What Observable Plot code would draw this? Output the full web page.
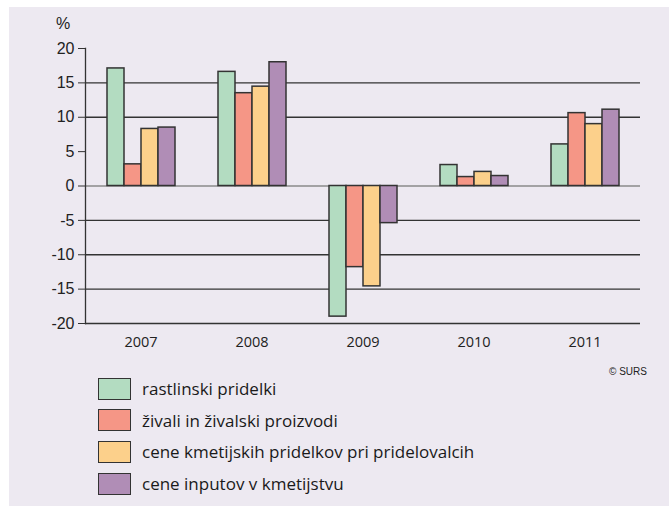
<!DOCTYPE html>
<html>
<head>
<meta charset="utf-8">
<script src="https://cdn.jsdelivr.net/npm/d3@7"></script>
<script src="https://cdn.jsdelivr.net/npm/@observablehq/plot@0.6"></script>
<style>
  html, body { margin: 0; padding: 0; background: #ffffff; }
  #page { position: relative; width: 669px; height: 506px; overflow: hidden; }
  #panel { position: absolute; left: 9px; top: 7px; width: 660px; height: 499px; background: #ede9f1; }
  #chart { position: absolute; left: 0; top: 0; }
  #chart g[aria-label="y-axis tick label"] text { font-family: "Liberation Sans", Arial, sans-serif; font-size: 16px; }
  #chart g[aria-label="fx-axis tick label"] text { font-family: "Open Sans", sans-serif; font-size: 14.5px; }
  #pct { position: absolute; left: 56px; top: 15px; font: 16px "Liberation Sans", Arial, sans-serif; color: #222; }
  #surs { position: absolute; left: 609px; top: 366px; font: 10px "Liberation Sans", Arial, sans-serif; color: #222; }
  #legend { position: absolute; left: 98px; top: 377px; font-family: "Open Sans", sans-serif; font-size: 17px; color: #1a1a1a; }
  .row { display: flex; align-items: center; height: 23px; margin-bottom: 8.7px; }
  .sw { width: 31px; height: 20px; border: 1.5px solid #333; margin-right: 11px; box-sizing: content-box; }
</style>
</head>
<body>
<div id="page">
  <div id="panel"></div>
  <div id="chart"></div>
  <div id="pct">%</div>
  <div id="surs">© SURS</div>
  <div id="legend"></div>
</div>
<script>
const years = ["2007", "2008", "2009", "2010", "2011"];
const seriesNames = [
  "rastlinski pridelki",
  "živali in živalski proizvodi",
  "cene kmetijskih pridelkov pri pridelovalcih",
  "cene inputov v kmetijstvu"
];
const seriesColors = ["#b3dcc1", "#f59686", "#fcd08b", "#b08db6"];
const rastlinski = [17.1, 16.6, -19.0, 3.05, 6.05];
const zivali = [3.15, 13.5, -11.8, 1.3, 10.6];
const ceneKmetijskih = [8.3, 14.45, -14.6, 2.05, 9.0];
const ceneInputov = [8.5, 18.0, -5.4, 1.45, 11.1];
const yTicks = [-20, -15, -10, -5, 0, 5, 10, 15, 20];
const gridValues = [15, 10, -5, -10, -15, -20];

const seriesValues = [rastlinski, zivali, ceneKmetijskih, ceneInputov];
const data = [];
years.forEach((yr, i) => {
  seriesNames.forEach((s, j) => data.push({year: yr, series: s, value: seriesValues[j][i]}));
});

const plot = Plot.plot({
  width: 669,
  height: 360,
  marginLeft: 83,
  marginRight: 28,
  marginTop: 48,
  marginBottom: 37,
  style: {background: "transparent", color: "#222", fontFamily: "Liberation Sans, Arial, sans-serif", fontSize: "16px"},
  fx: {domain: years, paddingInner: 0, paddingOuter: 0, axis: null, label: null},
  x: {domain: seriesNames, paddingInner: 0, paddingOuter: 1.125, axis: null},
  y: {domain: [-20, 20], axis: null},
  color: {domain: seriesNames, range: seriesColors},
  marks: [
    Plot.ruleY(gridValues, {stroke: "#333", strokeWidth: 1.3}),
    Plot.ruleY([0], {stroke: "#8a8a8a", strokeWidth: 1.3}),
    Plot.barY(data, {fx: "year", x: "series", y: "value", fill: "series", stroke: "#333", strokeWidth: 1.5}),
    Plot.frame({anchor: "left", facetAnchor: "left", stroke: "#333", strokeWidth: 1.3}),
    Plot.axisY({anchor: "left", ticks: yTicks, tickSize: 7, tickPadding: 4, tickFormat: d => String(d), label: null, stroke: "#333", fill: "#222"}),
    Plot.axisFx({anchor: "bottom", tickSize: 0, tickPadding: 13, fill: "#222", label: null})
  ]
});
document.getElementById("chart").appendChild(plot);

const legend = document.getElementById("legend");
seriesNames.forEach((s, j) => {
  const row = document.createElement("div");
  row.className = "row";
  const sw = document.createElement("div");
  sw.className = "sw";
  sw.style.background = seriesColors[j];
  const t = document.createElement("span");
  t.textContent = s;
  row.appendChild(sw);
  row.appendChild(t);
  legend.appendChild(row);
});
</script>
</body>
</html>
